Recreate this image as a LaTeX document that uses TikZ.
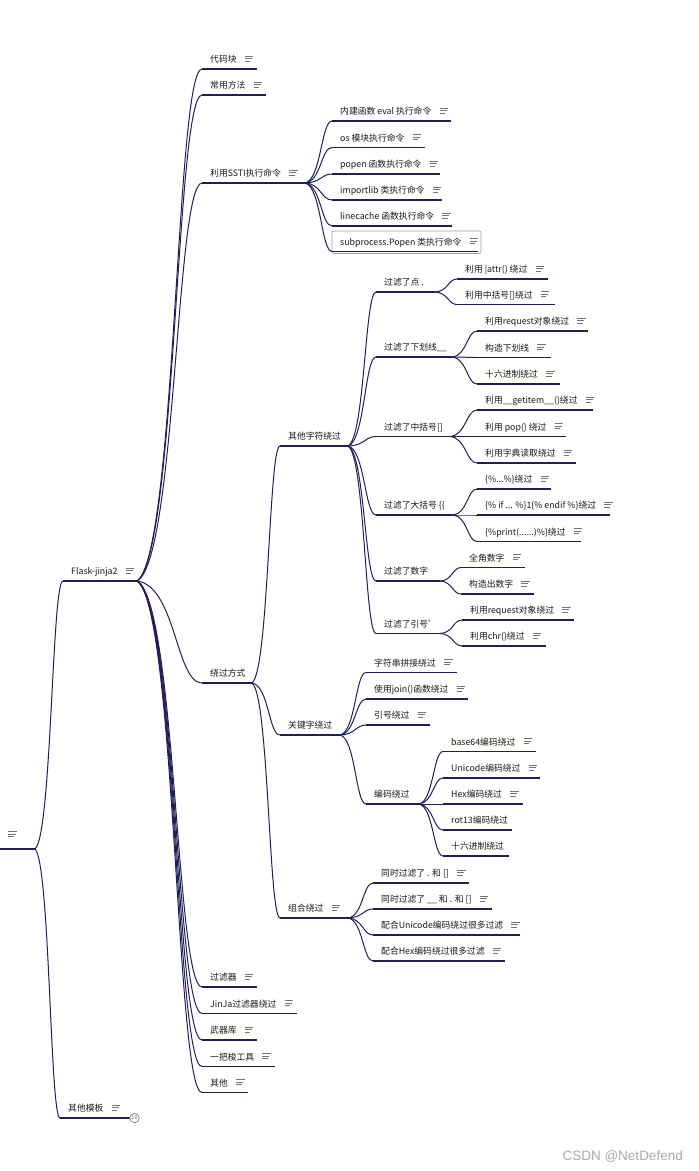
\documentclass[tikz,border=0pt]{standalone}
\usepackage{fontspec}
\setmainfont{Noto Sans CJK SC}
\newfontfamily\wmfont{Liberation Sans}
\usetikzlibrary{calc}
\definecolor{navy}{RGB}{32,32,88}
\definecolor{txtc}{RGB}{25,25,30}
\definecolor{iconc}{RGB}{115,115,125}
\definecolor{wmc}{RGB}{170,170,170}
\definecolor{selc}{RGB}{160,160,160}
\tikzset{
  uline/.style={draw=navy, line width=1.15pt},
  conn/.style={draw=navy, line width=1pt},
  txt/.style={anchor=base west, inner sep=0pt, text=txtc, font=\fontsize{8.8}{10}\selectfont},
  icon/.style={draw=iconc, line width=0.75pt},
}
\newcommand\noteicon[1]{%
  \draw[icon] ($(#1.base east)+(8,-6.6)$) -- +(8.5,0);
  \draw[icon] ($(#1.base east)+(8,-3.9)$) -- +(7,0);
  \draw[icon] ($(#1.base east)+(8,-1.2)$) -- +(5.5,0);}
\newcommand\topic[6]{%
  \coordinate (#1-l) at (#2,#4);
  \coordinate (#1-r) at (#3,#4);
  \draw[uline] (#1-l) -- (#1-r);
  \node[txt] (#1) at (#2+8,#4-6.5) {#5};
  \ifnum#6=1 \noteicon{#1}\fi}
\newcommand\conn[2]{%
  \draw[conn] let \p1=(#1-r), \p2=(#2-l) in
   (\p1) .. controls ({\x1+0.6*(\x2-\x1)},{\y1+0.05*(\y2-\y1)}) and ({\x1+0.6*(\x2-\x1)},\y2) .. (\p2);}
\begin{document}
\begin{tikzpicture}[x=1pt,y=-1pt]
\path[use as bounding box, fill=white] (0,0) rectangle (699,1171);
% root
\coordinate (root-l) at (0,849);
\coordinate (root-r) at (35,849);
\draw[uline] (root-l) -- (root-r);
\draw[icon] (8,831.5) -- +(9,0);
\draw[icon] (8,834) -- +(8,0);
\draw[icon] (8,836.5) -- +(6,0);
% level 1
\topic{flask}{63}{137}{581}{Flask-jinja2}{1}
\topic{qtmb}{60}{130}{1118}{其他模板}{1}
\node[circle, draw=iconc, fill=white, line width=0.6pt, inner sep=0pt, minimum size=9.5pt, text=iconc, font=\fontsize{5.5}{5.5}\selectfont] (fold) at (134.5,1118) {10};
% level 2
\topic{dmk}{202}{257}{69}{代码块}{1}
\topic{cyff}{202}{266}{95}{常用方法}{1}
\topic{ssti}{202}{305}{183}{利用SSTI执行命令}{1}
\topic{rgfs}{202}{252}{683}{绕过方式}{0}
\topic{glq}{202}{257}{987}{过滤器}{1}
\topic{jjgl}{202}{297}{1013.5}{JinJa过滤器绕过}{1}
\topic{wqk}{202}{257}{1040}{武器库}{1}
\topic{ybs}{202}{275}{1066.5}{一把梭工具}{1}
\topic{qt}{202}{248}{1092.5}{其他}{1}
% SSTI
\draw[draw=selc, line width=0.8pt, rounded corners=2pt] (332,231) rectangle (481,253.5);
\topic{sa}{332}{451}{121}{内建函数 eval 执行命令}{1}
\topic{sb}{332}{425}{147.5}{os 模块执行命令}{1}
\topic{sc}{332}{440}{174}{popen 函数执行命令}{1}
\topic{sd}{332}{442}{200}{importlib 类执行命令}{1}
\topic{se}{332}{452}{226}{linecache 函数执行命令}{1}
\topic{sf}{332}{478}{251.5}{subprocess.Popen 类执行命令}{1}
% 绕过方式
\topic{qtzf}{280}{348}{446}{其他字符绕过}{0}
\topic{gjz}{280}{340}{735}{关键字绕过}{0}
\topic{zh}{280}{348}{918}{组合绕过}{1}
% 其他字符绕过
\topic{gd}{376}{435}{292}{过滤了点 .}{0}
\topic{gx}{376}{452}{357}{过滤了下划线\_\_}{0}
\topic{gz}{376}{450}{436.5}{过滤了中括号[]}{0}
\topic{gdk}{376}{453}{515}{过滤了大括号 \{\{}{0}
\topic{gs}{376}{440}{581}{过滤了数字}{0}
\topic{gy}{376}{440}{633.5}{过滤了引号'}{0}
\topic{da}{457}{548}{279}{利用 |attr() 绕过}{1}
\topic{db}{457}{555}{304.5}{利用中括号[]绕过}{1}
\topic{xa}{477}{588}{331}{利用request对象绕过}{1}
\topic{xb}{477}{551}{357.5}{构造下划线}{1}
\topic{xc}{477}{560}{384}{十六进制绕过}{1}
\topic{za}{477}{593}{410}{利用\_\_getitem\_\_()绕过}{1}
\topic{zb}{477}{566}{436.5}{利用 pop() 绕过}{1}
\topic{zc}{477}{576}{463}{利用字典读取绕过}{1}
\topic{ka}{477}{551}{489}{\{\%...\%\}绕过}{1}
\topic{kb}{477}{610}{515}{\{\% if ... \%\}1\{\% endif \%\}绕过}{1}
\topic{kc}{477}{581}{541.5}{\{\%print(......)\%\}绕过}{1}
\topic{na}{461}{525}{567.5}{全角数字}{1}
\topic{nb}{461}{534}{594}{构造出数字}{1}
\topic{ya}{462}{574}{620}{利用request对象绕过}{1}
\topic{yb}{462}{546}{646}{利用chr()绕过}{1}
% 关键字绕过
\topic{ja}{366}{457}{672.5}{字符串拼接绕过}{1}
\topic{jb}{366}{468}{699}{使用join()函数绕过}{1}
\topic{jc}{366}{430}{725}{引号绕过}{1}
\topic{jd}{366}{419}{804}{编码绕过}{0}
\topic{ea}{443}{536}{751.5}{base64编码绕过}{1}
\topic{eb}{443}{540}{778}{Unicode编码绕过}{1}
\topic{ec}{443}{523}{804}{Hex编码绕过}{1}
\topic{ed}{443}{512}{830}{rot13编码绕过}{0}
\topic{ee}{443}{509}{856}{十六进制绕过}{0}
% 组合绕过
\topic{ca}{373}{469}{883}{同时过滤了 . 和 []}{1}
\topic{cb}{373}{492}{909}{同时过滤了 \_\_ 和 . 和 []}{1}
\topic{cc}{373}{520}{935}{配合Unicode编码绕过很多过滤}{1}
\topic{cd}{373}{505}{961}{配合Hex编码绕过很多过滤}{1}
% connectors
\conn{root}{flask}\conn{root}{qtmb}
\foreach \c in {dmk,cyff,ssti,rgfs,glq,jjgl,wqk,ybs,qt}{\conn{flask}{\c}}
\foreach \c in {sa,sb,sc,sd,se,sf}{\conn{ssti}{\c}}
\foreach \c in {qtzf,gjz,zh}{\conn{rgfs}{\c}}
\foreach \c in {gd,gx,gz,gdk,gs,gy}{\conn{qtzf}{\c}}
\foreach \c in {da,db}{\conn{gd}{\c}}
\foreach \c in {xa,xb,xc}{\conn{gx}{\c}}
\foreach \c in {za,zb,zc}{\conn{gz}{\c}}
\foreach \c in {ka,kb,kc}{\conn{gdk}{\c}}
\foreach \c in {na,nb}{\conn{gs}{\c}}
\foreach \c in {ya,yb}{\conn{gy}{\c}}
\foreach \c in {ja,jb,jc,jd}{\conn{gjz}{\c}}
\foreach \c in {ea,eb,ec,ed,ee}{\conn{jd}{\c}}
\foreach \c in {ca,cb,cc,cd}{\conn{zh}{\c}}
% watermark
\node[anchor=base east, inner sep=0pt, text=wmc, font=\wmfont\fontsize{13.5}{15}\selectfont] (wm) at (683,1160) {CSDN @NetDefend};
\end{tikzpicture}
\end{document}
